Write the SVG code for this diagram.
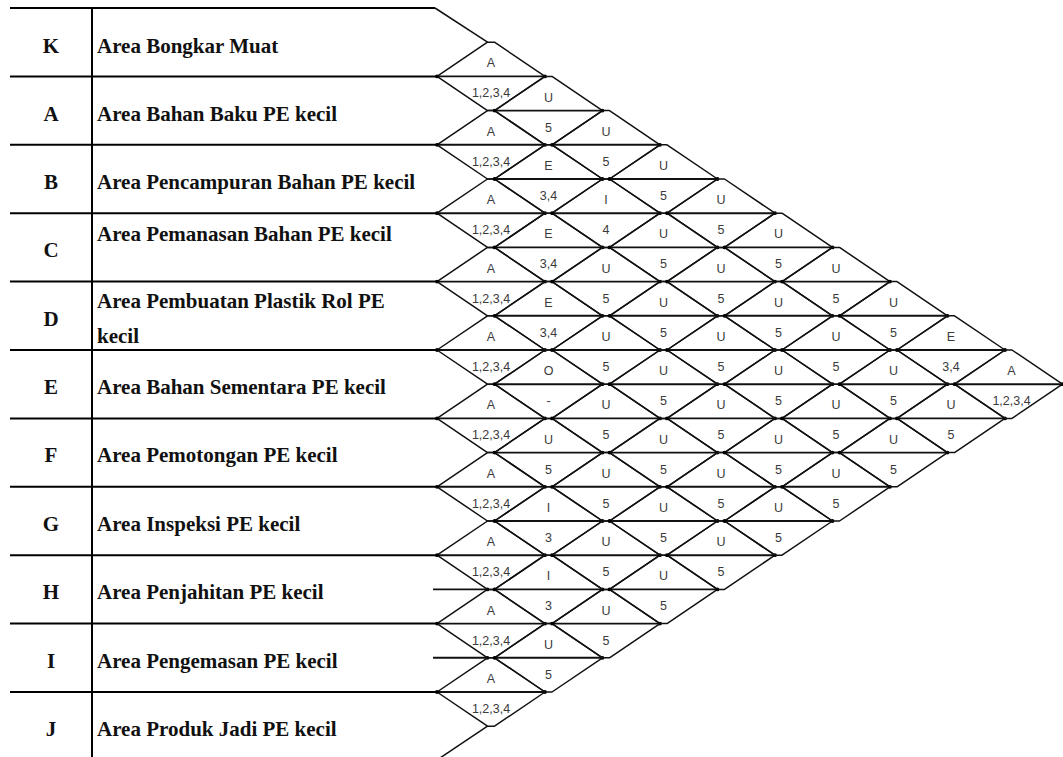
<svg xmlns="http://www.w3.org/2000/svg" xmlns:xlink="http://www.w3.org/1999/xlink" width="1063" height="757" viewBox="0 0 1063 757">
<style>
.tl{stroke:#000;stroke-width:2;fill:none}
.gl{stroke:#111;stroke-width:1.5;fill:none;stroke-linejoin:round}
.ml{stroke:#111;stroke-width:1.9}
.lt{font-family:"Liberation Serif","Times New Roman",serif;font-weight:bold;font-size:21px;fill:#111}
.lc{text-anchor:middle}
.r,.q{font-family:"Liberation Sans",Arial,sans-serif;font-size:12.5px;fill:#3a3a3a;text-anchor:middle}
</style>
<defs>
<g id="dia">
<polygon class="gl" points="-54,0 -3.5,-34.2 3.5,-34.2 54,0 3.5,34.2 -3.5,34.2"/>
<line class="ml" x1="-54" y1="0" x2="54" y2="0"/>
<circle cx="-54" cy="0" r="1.9" fill="#000"/>
<circle cx="54" cy="0" r="1.9" fill="#000"/>
</g>
</defs>
<rect width="1063" height="757" fill="#fff"/>
<g id="table">
<line class="tl" x1="10" y1="8" x2="435" y2="8"/>
<line class="tl" x1="10" y1="76.4" x2="437" y2="76.4"/>
<line class="tl" x1="10" y1="144.8" x2="437" y2="144.8"/>
<line class="tl" x1="10" y1="213.2" x2="437" y2="213.2"/>
<line class="tl" x1="10" y1="281.6" x2="437" y2="281.6"/>
<line class="tl" x1="10" y1="350" x2="437" y2="350"/>
<line class="tl" x1="10" y1="418.4" x2="437" y2="418.4"/>
<line class="tl" x1="10" y1="486.8" x2="437" y2="486.8"/>
<line class="tl" x1="10" y1="555.2" x2="437" y2="555.2"/>
<line class="tl" x1="10" y1="623.6" x2="437" y2="623.6"/>
<line class="tl" x1="10" y1="692" x2="437" y2="692"/>
<line class="tl" x1="92" y1="8" x2="92" y2="757"/>
</g>
<g id="row-K"><text class="lt lc" x="51" y="52.5">K</text><text class="lt" x="97" y="52.5">Area Bongkar Muat</text></g>
<g id="row-A"><text class="lt lc" x="51" y="120.5">A</text><text class="lt" x="97" y="120.5">Area Bahan Baku PE kecil</text></g>
<g id="row-B"><text class="lt lc" x="51" y="188.5">B</text><text class="lt" x="97" y="188.5">Area Pencampuran Bahan PE kecil</text></g>
<g id="row-C"><text class="lt lc" x="51" y="257">C</text><text class="lt" x="97" y="241">Area Pemanasan Bahan PE kecil</text></g>
<g id="row-D"><text class="lt lc" x="51" y="325.5">D</text><text class="lt" x="97" y="308">Area Pembuatan Plastik Rol PE</text><text class="lt" x="97" y="343">kecil</text></g>
<g id="row-E"><text class="lt lc" x="51" y="393.5">E</text><text class="lt" x="97" y="393.5">Area Bahan Sementara PE kecil</text></g>
<g id="row-F"><text class="lt lc" x="51" y="462">F</text><text class="lt" x="97" y="462">Area Pemotongan PE kecil</text></g>
<g id="row-G"><text class="lt lc" x="51" y="530.5">G</text><text class="lt" x="97" y="530.5">Area Inspeksi PE kecil</text></g>
<g id="row-H"><text class="lt lc" x="51" y="599">H</text><text class="lt" x="97" y="599">Area Penjahitan PE kecil</text></g>
<g id="row-I"><text class="lt lc" x="51" y="667.5">I</text><text class="lt" x="97" y="667.5">Area Pengemasan PE kecil</text></g>
<g id="row-J"><text class="lt lc" x="51" y="735.5">J</text><text class="lt" x="97" y="735.5">Area Produk Jadi PE kecil</text></g>
<g id="connectors">
<line class="gl" x1="435" y1="8" x2="487.5" y2="42.2"/>
<line class="gl" x1="487.5" y1="726.2" x2="434" y2="762"/>
<line class="ml" x1="433" y1="589.4" x2="487.5" y2="589.4"/>
<line class="ml" x1="433" y1="657.8" x2="487.5" y2="657.8"/>
<circle cx="487.5" cy="589.4" r="1.9" fill="#000"/>
<circle cx="487.5" cy="657.8" r="1.9" fill="#000"/>
</g>
<g id="n-K-A" transform="translate(491,76.4)"><use xlink:href="#dia"/><text class="r" y="-9">A</text><text class="q" y="21">1,2,3,4</text></g>
<g id="n-A-B" transform="translate(491,144.8)"><use xlink:href="#dia"/><text class="r" y="-9">A</text><text class="q" y="21">1,2,3,4</text></g>
<g id="n-B-C" transform="translate(491,213.2)"><use xlink:href="#dia"/><text class="r" y="-9">A</text><text class="q" y="21">1,2,3,4</text></g>
<g id="n-C-D" transform="translate(491,281.6)"><use xlink:href="#dia"/><text class="r" y="-9">A</text><text class="q" y="21">1,2,3,4</text></g>
<g id="n-D-E" transform="translate(491,350)"><use xlink:href="#dia"/><text class="r" y="-9">A</text><text class="q" y="21">1,2,3,4</text></g>
<g id="n-E-F" transform="translate(491,418.4)"><use xlink:href="#dia"/><text class="r" y="-9">A</text><text class="q" y="21">1,2,3,4</text></g>
<g id="n-F-G" transform="translate(491,486.8)"><use xlink:href="#dia"/><text class="r" y="-9">A</text><text class="q" y="21">1,2,3,4</text></g>
<g id="n-G-H" transform="translate(491,555.2)"><use xlink:href="#dia"/><text class="r" y="-9">A</text><text class="q" y="21">1,2,3,4</text></g>
<g id="n-H-I" transform="translate(491,623.6)"><use xlink:href="#dia"/><text class="r" y="-9">A</text><text class="q" y="21">1,2,3,4</text></g>
<g id="n-I-J" transform="translate(491,692)"><use xlink:href="#dia"/><text class="r" y="-9">A</text><text class="q" y="21">1,2,3,4</text></g>
<g id="n-K-B" transform="translate(548.5,110.6)"><use xlink:href="#dia"/><text class="r" y="-9">U</text><text class="q" y="21">5</text></g>
<g id="n-A-C" transform="translate(548.5,179)"><use xlink:href="#dia"/><text class="r" y="-9">E</text><text class="q" y="21">3,4</text></g>
<g id="n-B-D" transform="translate(548.5,247.4)"><use xlink:href="#dia"/><text class="r" y="-9">E</text><text class="q" y="21">3,4</text></g>
<g id="n-C-E" transform="translate(548.5,315.8)"><use xlink:href="#dia"/><text class="r" y="-9">E</text><text class="q" y="21">3,4</text></g>
<g id="n-D-F" transform="translate(548.5,384.2)"><use xlink:href="#dia"/><text class="r" y="-9">O</text><text class="q" y="21">-</text></g>
<g id="n-E-G" transform="translate(548.5,452.6)"><use xlink:href="#dia"/><text class="r" y="-9">U</text><text class="q" y="21">5</text></g>
<g id="n-F-H" transform="translate(548.5,521)"><use xlink:href="#dia"/><text class="r" y="-9">I</text><text class="q" y="21">3</text></g>
<g id="n-G-I" transform="translate(548.5,589.4)"><use xlink:href="#dia"/><text class="r" y="-9">I</text><text class="q" y="21">3</text></g>
<g id="n-H-J" transform="translate(548.5,657.8)"><use xlink:href="#dia"/><text class="r" y="-9">U</text><text class="q" y="21">5</text></g>
<g id="n-K-C" transform="translate(606,144.8)"><use xlink:href="#dia"/><text class="r" y="-9">U</text><text class="q" y="21">5</text></g>
<g id="n-A-D" transform="translate(606,213.2)"><use xlink:href="#dia"/><text class="r" y="-9">I</text><text class="q" y="21">4</text></g>
<g id="n-B-E" transform="translate(606,281.6)"><use xlink:href="#dia"/><text class="r" y="-9">U</text><text class="q" y="21">5</text></g>
<g id="n-C-F" transform="translate(606,350)"><use xlink:href="#dia"/><text class="r" y="-9">U</text><text class="q" y="21">5</text></g>
<g id="n-D-G" transform="translate(606,418.4)"><use xlink:href="#dia"/><text class="r" y="-9">U</text><text class="q" y="21">5</text></g>
<g id="n-E-H" transform="translate(606,486.8)"><use xlink:href="#dia"/><text class="r" y="-9">U</text><text class="q" y="21">5</text></g>
<g id="n-F-I" transform="translate(606,555.2)"><use xlink:href="#dia"/><text class="r" y="-9">U</text><text class="q" y="21">5</text></g>
<g id="n-G-J" transform="translate(606,623.6)"><use xlink:href="#dia"/><text class="r" y="-9">U</text><text class="q" y="21">5</text></g>
<g id="n-K-D" transform="translate(663.5,179)"><use xlink:href="#dia"/><text class="r" y="-9">U</text><text class="q" y="21">5</text></g>
<g id="n-A-E" transform="translate(663.5,247.4)"><use xlink:href="#dia"/><text class="r" y="-9">U</text><text class="q" y="21">5</text></g>
<g id="n-B-F" transform="translate(663.5,315.8)"><use xlink:href="#dia"/><text class="r" y="-9">U</text><text class="q" y="21">5</text></g>
<g id="n-C-G" transform="translate(663.5,384.2)"><use xlink:href="#dia"/><text class="r" y="-9">U</text><text class="q" y="21">5</text></g>
<g id="n-D-H" transform="translate(663.5,452.6)"><use xlink:href="#dia"/><text class="r" y="-9">U</text><text class="q" y="21">5</text></g>
<g id="n-E-I" transform="translate(663.5,521)"><use xlink:href="#dia"/><text class="r" y="-9">U</text><text class="q" y="21">5</text></g>
<g id="n-F-J" transform="translate(663.5,589.4)"><use xlink:href="#dia"/><text class="r" y="-9">U</text><text class="q" y="21">5</text></g>
<g id="n-K-E" transform="translate(721,213.2)"><use xlink:href="#dia"/><text class="r" y="-9">U</text><text class="q" y="21">5</text></g>
<g id="n-A-F" transform="translate(721,281.6)"><use xlink:href="#dia"/><text class="r" y="-9">U</text><text class="q" y="21">5</text></g>
<g id="n-B-G" transform="translate(721,350)"><use xlink:href="#dia"/><text class="r" y="-9">U</text><text class="q" y="21">5</text></g>
<g id="n-C-H" transform="translate(721,418.4)"><use xlink:href="#dia"/><text class="r" y="-9">U</text><text class="q" y="21">5</text></g>
<g id="n-D-I" transform="translate(721,486.8)"><use xlink:href="#dia"/><text class="r" y="-9">U</text><text class="q" y="21">5</text></g>
<g id="n-E-J" transform="translate(721,555.2)"><use xlink:href="#dia"/><text class="r" y="-9">U</text><text class="q" y="21">5</text></g>
<g id="n-K-F" transform="translate(778.5,247.4)"><use xlink:href="#dia"/><text class="r" y="-9">U</text><text class="q" y="21">5</text></g>
<g id="n-A-G" transform="translate(778.5,315.8)"><use xlink:href="#dia"/><text class="r" y="-9">U</text><text class="q" y="21">5</text></g>
<g id="n-B-H" transform="translate(778.5,384.2)"><use xlink:href="#dia"/><text class="r" y="-9">U</text><text class="q" y="21">5</text></g>
<g id="n-C-I" transform="translate(778.5,452.6)"><use xlink:href="#dia"/><text class="r" y="-9">U</text><text class="q" y="21">5</text></g>
<g id="n-D-J" transform="translate(778.5,521)"><use xlink:href="#dia"/><text class="r" y="-9">U</text><text class="q" y="21">5</text></g>
<g id="n-K-G" transform="translate(836,281.6)"><use xlink:href="#dia"/><text class="r" y="-9">U</text><text class="q" y="21">5</text></g>
<g id="n-A-H" transform="translate(836,350)"><use xlink:href="#dia"/><text class="r" y="-9">U</text><text class="q" y="21">5</text></g>
<g id="n-B-I" transform="translate(836,418.4)"><use xlink:href="#dia"/><text class="r" y="-9">U</text><text class="q" y="21">5</text></g>
<g id="n-C-J" transform="translate(836,486.8)"><use xlink:href="#dia"/><text class="r" y="-9">U</text><text class="q" y="21">5</text></g>
<g id="n-K-H" transform="translate(893.5,315.8)"><use xlink:href="#dia"/><text class="r" y="-9">U</text><text class="q" y="21">5</text></g>
<g id="n-A-I" transform="translate(893.5,384.2)"><use xlink:href="#dia"/><text class="r" y="-9">U</text><text class="q" y="21">5</text></g>
<g id="n-B-J" transform="translate(893.5,452.6)"><use xlink:href="#dia"/><text class="r" y="-9">U</text><text class="q" y="21">5</text></g>
<g id="n-K-I" transform="translate(951,350)"><use xlink:href="#dia"/><text class="r" y="-9">E</text><text class="q" y="21">3,4</text></g>
<g id="n-A-J" transform="translate(951,418.4)"><use xlink:href="#dia"/><text class="r" y="-9">U</text><text class="q" y="21">5</text></g>
<g id="n-K-J" transform="translate(1008.5,384.2)"><use xlink:href="#dia"/><text class="r" x="3" y="-9">A</text><text class="q" x="3" y="21">1,2,3,4</text></g>
</svg>
